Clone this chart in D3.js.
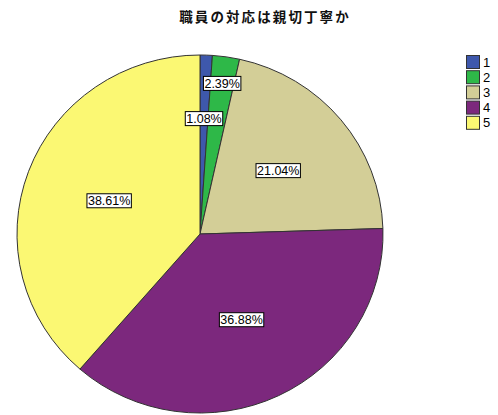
<!DOCTYPE html>
<html>
<head>
<meta charset="utf-8">
<script src="https://cdn.jsdelivr.net/npm/d3@7"></script>
<style>
  body { margin: 0; background: #fff; }
  svg { display: block; }
</style>
</head>
<body>
<div id="chart"></div>
<script>
const categories = ["1", "2", "3", "4", "5"];
const percents = [1.08, 2.39, 21.04, 36.88, 38.61];
const colors = ["#3e58ac", "#2eb848", "#d3ce97", "#7c287d", "#fbf873"];
const title = "職員の対応は親切丁寧か";

const width = 498, height = 415;
const cx = 200, cy = 234, rx = 183, ry = 179;
// label distance as a share of the radius (small slices pushed outward)
const labelRadius = [0.645, 0.85, 0.555, 0.53, 0.53];

const data = categories.map((c, i) => ({ cat: c, value: percents[i], color: colors[i], lr: labelRadius[i] }));

const svg = d3.select("#chart")
  .append("svg")
  .attr("width", width)
  .attr("height", height);

svg.append("text")
  .attr("x", 265)
  .attr("y", 22)
  .attr("text-anchor", "middle")
  .style("font-family", "'Noto Sans CJK JP', sans-serif")
  .style("font-size", "13.5px")
  .style("font-weight", "bold")
  .style("letter-spacing", "2.1px")
  .style("fill", "#111")
  .text(title);

const pie = d3.pie().sort(null).value(d => d.value);
const arcs = pie(data);

const arc = d3.arc().innerRadius(0).outerRadius(rx);

const chart = svg.append("g")
  .attr("transform", `translate(${cx},${cy}) scale(1,${ry / rx})`);

chart.selectAll(".slice")
  .data(arcs)
  .enter()
  .append("path")
  .attr("class", "slice")
  .attr("d", arc)
  .attr("fill", d => d.data.color)
  .attr("stroke", "#333")
  .attr("stroke-width", 1)
  .attr("vector-effect", "non-scaling-stroke");

const labels = svg.selectAll(".lbl")
  .data(arcs)
  .enter()
  .append("g")
  .attr("class", "lbl")
  .attr("transform", d => {
    const a = (d.startAngle + d.endAngle) / 2;
    const x = cx + Math.sin(a) * rx * d.data.lr;
    const y = cy - Math.cos(a) * ry * d.data.lr;
    return `translate(${x},${y})`;
  });

labels.append("text")
  .attr("text-anchor", "middle")
  .attr("dy", "0.36em")
  .style("font-family", "'Liberation Sans', Arial, sans-serif")
  .style("font-size", "12.5px")
  .style("fill", "#000")
  .text(d => d.data.value.toFixed(2) + "%");

labels.each(function() {
  const g = d3.select(this);
  const bb = g.select("text").node().getBBox();
  g.insert("rect", "text")
    .attr("x", bb.x - 1)
    .attr("y", -7)
    .attr("width", bb.width + 2)
    .attr("height", 14)
    .attr("fill", "#fff")
    .attr("stroke", "#000")
    .attr("stroke-width", 1);
});

const legend = svg.append("g")
  .attr("transform", "translate(466,55)");

const item = legend.selectAll(".item")
  .data(data)
  .enter()
  .append("g")
  .attr("class", "item")
  .attr("transform", (d, i) => `translate(0,${i * 15.2})`);

item.append("rect")
  .attr("x", 0.5)
  .attr("y", 0.5)
  .attr("width", 13)
  .attr("height", 13)
  .attr("fill", d => d.color)
  .attr("stroke", "#333")
  .attr("stroke-width", 1);

item.append("text")
  .attr("x", 17)
  .attr("y", 11.5)
  .style("font-family", "'Liberation Sans', Arial, sans-serif")
  .style("font-size", "13px")
  .style("fill", "#000")
  .text(d => d.cat);
</script>
</body>
</html>
